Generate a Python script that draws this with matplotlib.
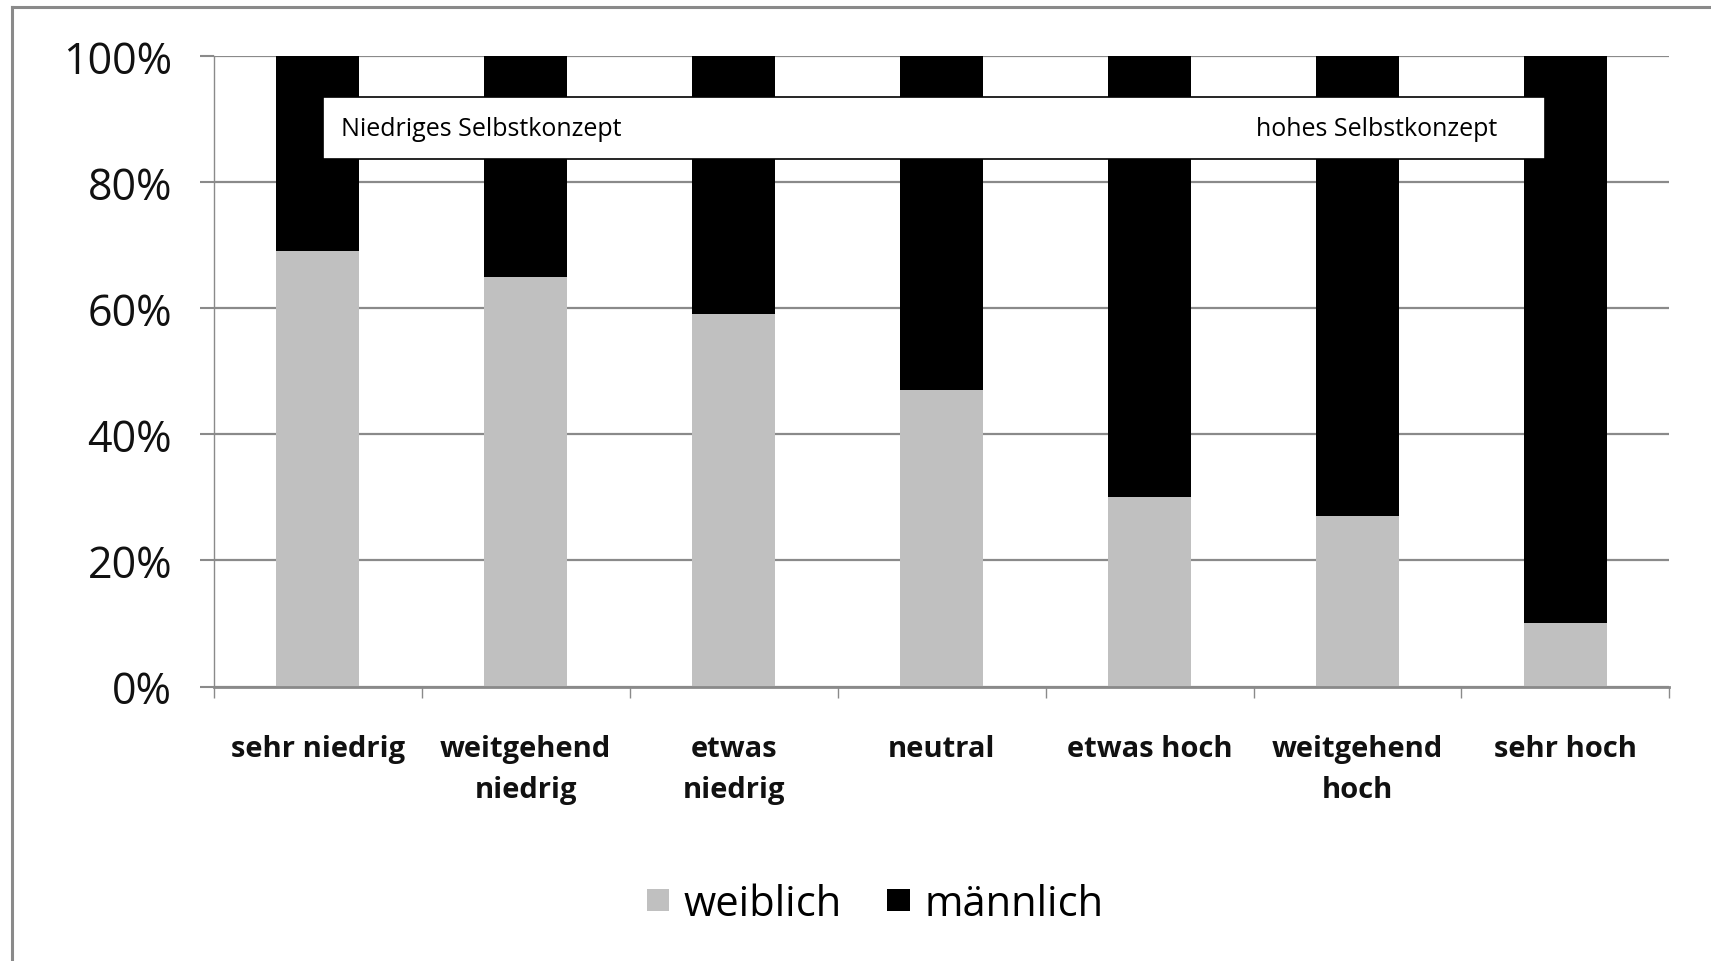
import numpy as np
import matplotlib
matplotlib.use("Agg")
import matplotlib.pyplot as plt
from matplotlib.patches import Rectangle
from matplotlib.lines import Line2D

# data
categories = ["sehr niedrig", "weitgehend\nniedrig", "etwas\nniedrig", "neutral",
              "etwas hoch", "weitgehend\nhoch", "sehr hoch"]
weiblich = [69, 65, 59, 47, 30, 27, 10]
maennlich = [31, 35, 41, 53, 70, 73, 90]
yticks = [0, 20, 40, 60, 80, 100]

FONT = "Open Sans"

fig = plt.figure(figsize=(17.11, 9.62), dpi=100)
ax = fig.add_axes([0.125, 0.2853, 0.8507, 0.6557])

x = np.arange(len(categories))
ax.bar(x, weiblich, width=0.4, color="#c0c0c0", label="weiblich", zorder=2)
ax.bar(x, maennlich, width=0.4, bottom=weiblich, color="#000000", label="männlich", zorder=2)

ax.set_xlim(-0.5, len(categories) - 0.5)
ax.set_ylim(0, 100)
ax.set_yticks(yticks)
ax.set_yticklabels([f"{v}%" for v in yticks], fontfamily=FONT, fontsize=31, color="#111111")
ax.yaxis.grid(True, color="#8a8a8a", linewidth=1.6, zorder=0)
ax.tick_params(axis="y", length=10, width=1.5, color="#8a8a8a", pad=20)

# ticks at category boundaries, labels at centers
ax.set_xticks(np.arange(-0.5, len(categories), 1.0))
ax.set_xticklabels([])
ax.tick_params(axis="x", which="major", length=8, width=1, color="#8a8a8a")
ax.set_xticks(x, minor=True)
ax.set_xticklabels(categories, minor=True, fontfamily=FONT, fontweight="bold",
                   fontsize=21, linespacing=1.55, color="#111111")
ax.tick_params(axis="x", which="minor", length=0, pad=34)

for s in ["top", "right"]:
    ax.spines[s].set_visible(False)
ax.spines["left"].set_color("#8a8a8a")
ax.spines["left"].set_linewidth(1)
ax.spines["bottom"].set_color("#8a8a8a")
ax.spines["bottom"].set_linewidth(2)

# annotation box
ax.add_patch(Rectangle((0.024, 83.6), 5.878, 9.9, facecolor="white",
                       edgecolor="black", linewidth=1.2, zorder=3))
ax.text(0.113, 88.4, "Niedriges Selbstkonzept", fontfamily=FONT, fontsize=18,
        va="center", ha="left", zorder=4)
ax.text(4.512, 88.4, "hohes Selbstkonzept", fontfamily=FONT, fontsize=18,
        va="center", ha="left", zorder=4)

ax.legend(loc="center", bbox_to_anchor=(875 / 1711, 1 - 905 / 962),
          bbox_transform=fig.transFigure, ncol=2, frameon=False,
          prop={"family": FONT, "size": 30}, handlelength=0.53,
          handleheight=0.435, handletextpad=0.35, columnspacing=1.1)

# outer frame
fig.add_artist(Line2D([12 / 1711, 1], [1 - 8 / 962, 1 - 8 / 962],
                      transform=fig.transFigure, color="#8a8a8a", linewidth=2.2))
fig.add_artist(Line2D([12 / 1711, 12 / 1711], [0, 1 - 8 / 962],
                      transform=fig.transFigure, color="#8a8a8a", linewidth=2.2))

fig.savefig("out.png", dpi=100)
